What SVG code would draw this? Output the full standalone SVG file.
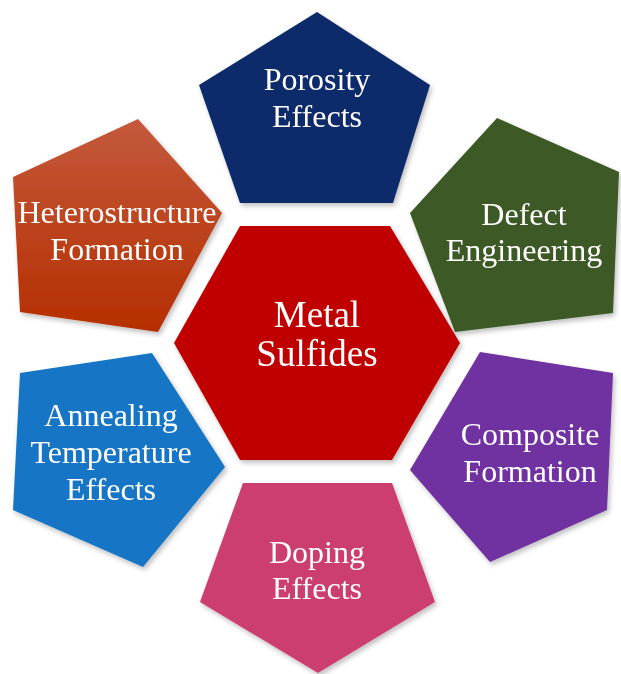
<svg xmlns="http://www.w3.org/2000/svg" width="621" height="674" viewBox="0 0 621 674">
<defs>
<filter id="sh" x="-10%" y="-10%" width="125%" height="125%">
<feDropShadow dx="2" dy="3" stdDeviation="2.5" flood-color="#000" flood-opacity="0.25"/>
</filter>
<linearGradient id="gHet" x1="0" y1="0" x2="0" y2="1">
<stop offset="0" stop-color="#c45a3c"/>
<stop offset="1" stop-color="#b52e00"/>
</linearGradient>
</defs>
<style>
.n{filter:url(#sh)}
.t{font-family:"Liberation Serif","Times New Roman",serif;font-size:32px;fill:#fff;text-anchor:middle}
.c{font-size:37px}
</style>
<rect width="621" height="674" fill="#fff"/>
<g id="porosity" class="n">
<polygon points="317,12 430,85 393,203 240,203 199,85" fill="#102a6b"/>
<text class="t" x="317" y="90">Porosity</text>
<text class="t" x="317" y="127">Effects</text>
</g>
<g id="heterostructure" class="n">
<polygon points="138,119 222,213 158,332 20,312 13,177" fill="url(#gHet)"/>
<text class="t" x="117" y="223">Heterostructure</text>
<text class="t" x="117" y="260">Formation</text>
</g>
<g id="defect" class="n">
<polygon points="497,118 619,172 613,313 455,332 410,213" fill="#3d5a27"/>
<text class="t" x="524" y="225">Defect</text>
<text class="t" x="524" y="261">Engineering</text>
</g>
<g id="metal-sulfides" class="n">
<polygon points="240,226 390,226 460,343 392,460 240,460 174,343" fill="#c00000"/>
<text class="t c" x="317" y="327">Metal</text>
<text class="t c" x="317" y="366">Sulfides</text>
</g>
<g id="annealing" class="n">
<polygon points="20,373 152,353 225,467 143,567 13,510" fill="#1474c4"/>
<text class="t" x="111" y="426">Annealing</text>
<text class="t" x="111" y="463">Temperature</text>
<text class="t" x="111" y="500">Effects</text>
</g>
<g id="composite" class="n">
<polygon points="480,352 613,373 607,510 490,562 410,470" fill="#7030a0"/>
<text class="t" x="530" y="445">Composite</text>
<text class="t" x="530" y="482">Formation</text>
</g>
<g id="doping" class="n">
<polygon points="243,483 392,483 435,602 318,673 200,602" fill="#cc3c70"/>
<text class="t" x="317" y="563">Doping</text>
<text class="t" x="317" y="599">Effects</text>
</g>
</svg>
